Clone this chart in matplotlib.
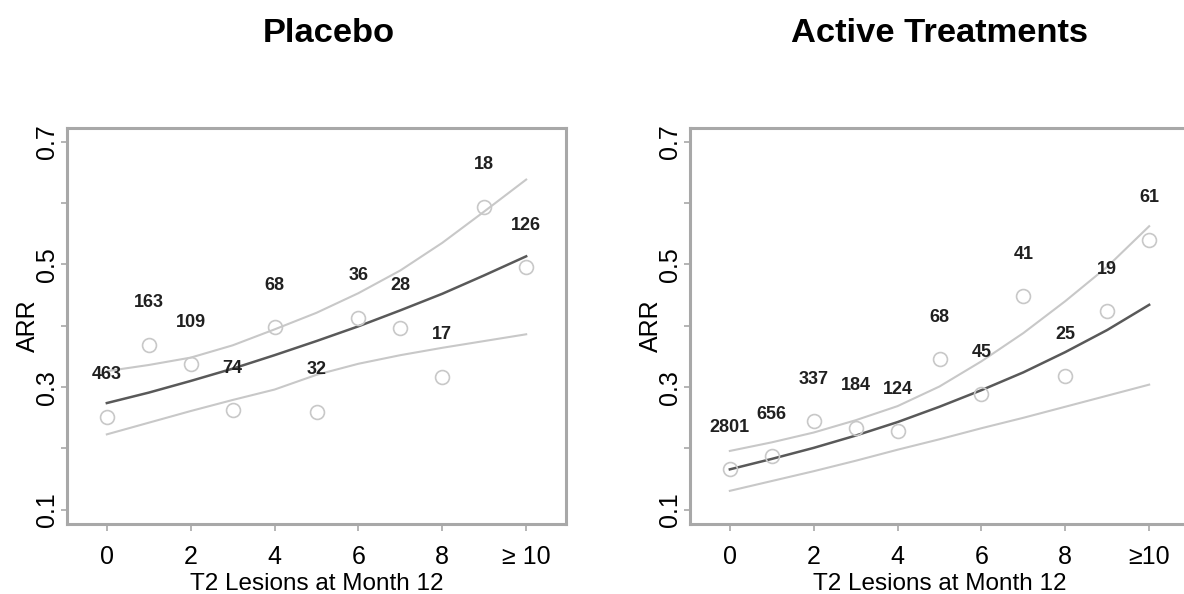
import numpy as np
import matplotlib.pyplot as plt

plt.rcParams['font.family'] = ['Liberation Sans', 'DejaVu Sans']

lesions = np.arange(11)
tick_pos = [0, 2, 4, 6, 8, 10]

# Placebo
pl_obs = [0.252, 0.369, 0.338, 0.262, 0.398, 0.260, 0.413, 0.397, 0.317, 0.594, 0.496]
pl_fit = [0.274, 0.291, 0.310, 0.330, 0.352, 0.375, 0.399, 0.425, 0.452, 0.482, 0.513]
pl_upper = [0.326, 0.336, 0.348, 0.368, 0.394, 0.421, 0.453, 0.490, 0.535, 0.586, 0.638]
pl_lower = [0.223, 0.242, 0.261, 0.279, 0.296, 0.320, 0.338, 0.352, 0.364, 0.375, 0.386]
pl_n = ['463', '163', '109', '74', '68', '32', '36', '28', '17', '18', '126']
pl_ticklabels = ['0', '2', '4', '6', '8', '\u2265 10']

# Active treatments
ac_obs = [0.166, 0.188, 0.245, 0.234, 0.228, 0.345, 0.288, 0.448, 0.318, 0.424, 0.540]
ac_fit = [0.166, 0.183, 0.201, 0.221, 0.243, 0.268, 0.295, 0.324, 0.357, 0.393, 0.434]
ac_upper = [0.196, 0.210, 0.226, 0.246, 0.269, 0.301, 0.342, 0.388, 0.440, 0.496, 0.562]
ac_lower = [0.131, 0.147, 0.163, 0.180, 0.198, 0.215, 0.233, 0.250, 0.268, 0.286, 0.304]
ac_n = ['2801', '656', '337', '184', '124', '68', '45', '41', '25', '19', '61']
ac_ticklabels = ['0', '2', '4', '6', '8', '\u226510']

frame_col = '#a8a8a8'
light = '#c8c8c8'
dark = '#595959'

W, H = 1184, 594
fig = plt.figure(figsize=(W / 100, H / 100), dpi=100)
ax1 = fig.add_axes([67 / W, (H - 524) / H, 499 / W, 396 / H])
ax2 = fig.add_axes([690 / W, (H - 524) / H, 499 / W, 396 / H])


def panel(ax, title, title_x, obs, fit, upper, lower, counts, xticklabels):
    ax.plot(lesions, upper, color=light, lw=1.5)
    ax.plot(lesions, lower, color=light, lw=1.5)
    ax.plot(lesions, fit, color=dark, lw=1.8)
    ax.plot(lesions, obs, 'o', ms=10, mfc='none', mec=light, mew=1.2)
    for x, y, s in zip(lesions, obs, counts):
        ax.text(x, y + 0.068, s, ha='center', va='center', fontsize=13,
                fontweight='bold', color='#202020')
    ax.set_xlim(-0.95, 10.95)
    ax.set_ylim(0.077, 0.722)
    ax.set_xticks(tick_pos)
    ax.set_xticklabels(xticklabels, fontsize=18)
    ax.set_yticks(np.arange(0.1, 0.71, 0.1))
    ax.set_yticklabels(['0.1', '', '0.3', '', '0.5', '', '0.7'],
                       fontsize=18, rotation=90, va='center')
    ax.tick_params(axis='x', length=5, width=1.2, color=frame_col, pad=10)
    ax.tick_params(axis='y', length=4, width=1.2, color=frame_col, pad=1.5)
    for sp in ax.spines.values():
        sp.set_color(frame_col)
        sp.set_linewidth(2.2)
    ax.set_xlabel('T2 Lesions at Month 12', fontsize=17.5, labelpad=3)
    ax.set_ylabel('ARR', fontsize=18, labelpad=-3)
    ax.set_title(title, fontsize=24.8, fontweight='bold', x=title_x, pad=62)


panel(ax1, 'Placebo', 0.525, pl_obs, pl_fit, pl_upper, pl_lower, pl_n, pl_ticklabels)
panel(ax2, 'Active Treatments', 0.5, ac_obs, ac_fit, ac_upper, ac_lower, ac_n, ac_ticklabels)

fig.savefig('out.png', dpi=100)
